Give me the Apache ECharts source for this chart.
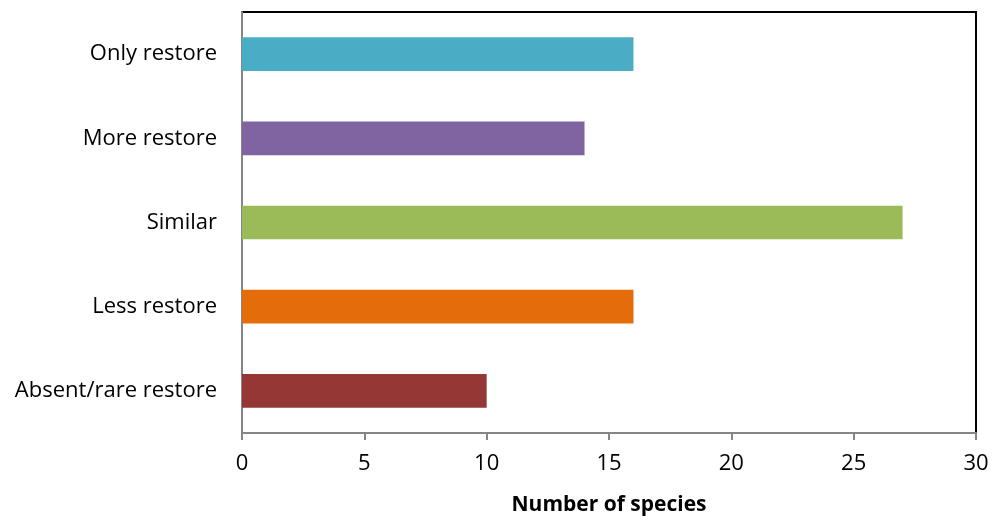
<!DOCTYPE html>
<html>
<head>
<meta charset="utf-8">
<script src="https://cdn.jsdelivr.net/npm/echarts@6/dist/echarts.min.js"></script>
<style>html,body{margin:0;padding:0;background:#fff;}#c{width:995px;height:522px;}</style>
</head>
<body>
<div id="c"></div>
<script>
const categories = ['Absent/rare restore', 'Less restore', 'Similar', 'More restore', 'Only restore'];
const values = [10, 16, 27, 14, 16];
const colors = ['#953735', '#E46C0A', '#9BBB59', '#8064A2', '#4BACC6'];
const xTicks = [0, 5, 10, 15, 20, 25, 30];

const chart = echarts.init(document.getElementById('c'));
chart.setOption({
  animation: false,
  grid: { left: 242, right: 19, top: 12, bottom: 89, show: true, borderColor: '#000', borderWidth: 2, backgroundColor: 'transparent' },
  xAxis: {
    type: 'value', min: xTicks[0], max: xTicks[xTicks.length - 1], interval: 5,
    name: 'Number of species', nameLocation: 'middle', nameGap: 72,
    nameTextStyle: { fontFamily: 'Open Sans', fontSize: 21, fontWeight: 'bold', color: '#000', verticalAlign: 'middle' },
    axisLine: { show: true, lineStyle: { color: '#868686', width: 2 } },
    axisTick: { show: true, length: 7, lineStyle: { color: '#868686', width: 2 } },
    axisLabel: { fontFamily: 'Open Sans', fontSize: 22, color: '#000', margin: 20 },
    splitLine: { show: false }
  },
  yAxis: {
    type: 'category', data: categories,
    axisLine: { show: true, lineStyle: { color: '#868686', width: 2 } },
    axisTick: { show: false },
    axisLabel: { fontFamily: 'Open Sans', fontSize: 22, color: '#000', margin: 25 }
  },
  series: [{
    type: 'bar', barWidth: '40%',
    data: values.map((v, i) => ({ value: v, itemStyle: { color: colors[i] } }))
  }]
});
</script>
</body>
</html>
